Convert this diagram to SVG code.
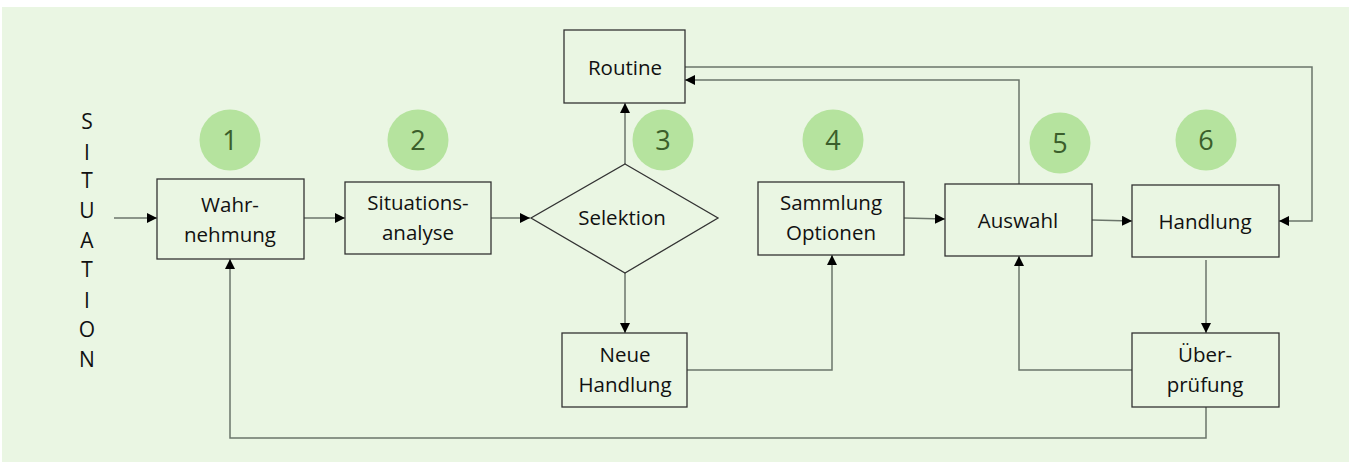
<svg xmlns="http://www.w3.org/2000/svg" width="1352" height="463" viewBox="0 0 1352 463">
<defs>
<marker id="ah" viewBox="0 0 10 10" refX="10" refY="5" markerWidth="10" markerHeight="10" markerUnits="userSpaceOnUse" orient="auto">
<path d="M0,0 L10,5 L0,10 Z" fill="#000"/>
</marker>
<style>
.box{fill:#eaf6e3;stroke:#333;stroke-width:1.3}
.t{font-family:"Open Sans","Liberation Sans",sans-serif;font-size:20.5px;fill:#111;text-anchor:middle}
.c{fill:#b5e39e}
.n{font-family:"Open Sans","Liberation Sans",sans-serif;font-size:27px;fill:#3b5e2b;text-anchor:middle}
.l{fill:none;stroke:#6b756b;stroke-width:1.5}
.la{fill:none;stroke:#6b756b;stroke-width:1.5;marker-end:url(#ah)}
.s{font-family:"Open Sans","Liberation Sans",sans-serif;font-size:21px;fill:#111;text-anchor:middle}
</style>
</defs>
<rect x="2" y="7" width="1347" height="455" fill="#eaf6e3"/>
<g id="situation">
<text class="s" x="87" y="129">S</text>
<text class="s" x="87" y="160">I</text>
<text class="s" x="87" y="188">T</text>
<text class="s" x="87" y="218">U</text>
<text class="s" x="87" y="248">A</text>
<text class="s" x="87" y="277">T</text>
<text class="s" x="87" y="308">I</text>
<text class="s" x="87" y="337">O</text>
<text class="s" x="87" y="367">N</text>
</g>
<g id="badges">
<circle class="c" cx="230" cy="140" r="30.5"/><text class="n" x="230" y="150">1</text>
<circle class="c" cx="418" cy="140" r="30.5"/><text class="n" x="418" y="150">2</text>
<circle class="c" cx="663" cy="140" r="30.5"/><text class="n" x="663" y="150">3</text>
<circle class="c" cx="833" cy="140" r="30.5"/><text class="n" x="833" y="150">4</text>
<circle class="c" cx="1060" cy="143" r="30.5"/><text class="n" x="1060" y="153">5</text>
<circle class="c" cx="1206" cy="140" r="30.5"/><text class="n" x="1206" y="150">6</text>
</g>
<g id="connectors">
<line class="la" x1="114" y1="218" x2="157" y2="218"/>
<line class="la" x1="304" y1="218" x2="345" y2="218"/>
<line class="la" x1="491" y1="218" x2="530" y2="218"/>
<line class="la" x1="625" y1="164" x2="625" y2="103"/>
<line class="la" x1="625" y1="273" x2="625" y2="333"/>
<polyline class="la" points="687,370 832,370 832,255"/>
<line class="la" x1="904" y1="218" x2="945" y2="219"/>
<line class="la" x1="1092" y1="220" x2="1132" y2="221"/>
<polyline class="la" points="1019,184 1019,80 685,80"/>
<polyline class="la" points="685,67 1312,67 1312,221 1279,221"/>
<line class="la" x1="1206" y1="260" x2="1206" y2="333"/>
<polyline class="la" points="1132,370 1019,370 1019,256"/>
<polyline class="la" points="1206,407 1206,438 230,438 230,259"/>
</g>
<g id="wahrnehmung">
<rect class="box" x="157" y="179" width="147" height="80"/>
<text class="t" x="230" y="212">Wahr-</text>
<text class="t" x="230" y="242">nehmung</text>
</g>
<g id="situationsanalyse">
<rect class="box" x="345" y="182" width="146" height="72"/>
<text class="t" x="418" y="210">Situations-</text>
<text class="t" x="418" y="240">analyse</text>
</g>
<g id="routine">
<rect class="box" x="564" y="30" width="121" height="73"/>
<text class="t" x="625" y="75">Routine</text>
</g>
<g id="selektion">
<polygon class="box" points="625,164 718,218 625,273 531,218"/>
<text class="t" x="622" y="225">Selektion</text>
</g>
<g id="neue-handlung">
<rect class="box" x="562" y="333" width="125" height="74"/>
<text class="t" x="625" y="362">Neue</text>
<text class="t" x="625" y="392">Handlung</text>
</g>
<g id="sammlung">
<rect class="box" x="758" y="182" width="146" height="73"/>
<text class="t" x="831" y="210">Sammlung</text>
<text class="t" x="831" y="240">Optionen</text>
</g>
<g id="auswahl">
<rect class="box" x="945" y="184" width="147" height="72"/>
<text class="t" x="1018" y="228">Auswahl</text>
</g>
<g id="handlung">
<rect class="box" x="1132" y="185" width="147" height="72"/>
<text class="t" x="1205" y="229">Handlung</text>
</g>
<g id="ueberpruefung">
<rect class="box" x="1132" y="333" width="147" height="74"/>
<text class="t" x="1205" y="362">Über-</text>
<text class="t" x="1205" y="392">prüfung</text>
</g>
</svg>
